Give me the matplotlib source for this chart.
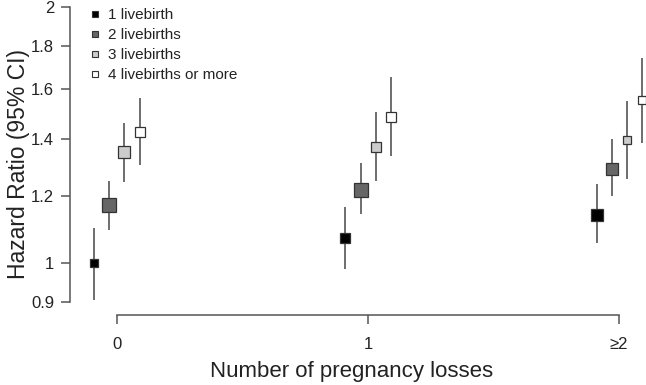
import matplotlib
matplotlib.use('Agg')
import matplotlib.pyplot as plt
from matplotlib.lines import Line2D
from matplotlib.ticker import NullLocator

plt.rcParams['font.family'] = ['Liberation Sans', 'DejaVu Sans']

# ---------------------------------------------
# Data
# ---------------------------------------------
losses = ['0', '1', '\u22652']
groups = ['1 livebirth', '2 livebirths', '3 livebirths', '4 livebirths or more']

# rows = livebirth groups, cols = number of pregnancy losses
hazard_ratio = [
    [1.00, 1.07, 1.14],
    [1.17, 1.22, 1.29],
    [1.35, 1.37, 1.395],
    [1.425, 1.485, 1.555],
]
ci_lower = [
    [0.905, 0.984, 1.055],
    [1.093, 1.142, 1.20],
    [1.245, 1.25, 1.255],
    [1.305, 1.337, 1.385],
]
ci_upper = [
    [1.10, 1.165, 1.24],
    [1.25, 1.31, 1.40],
    [1.46, 1.505, 1.55],
    [1.563, 1.653, 1.74],
]

y_ticks = [0.9, 1, 1.2, 1.4, 1.6, 1.8, 2]
y_ticklabels = ['0.9', '1', '1.2', '1.4', '1.6', '1.8', '2']

# ---------------------------------------------
# Styling
# ---------------------------------------------
face_colors = ['#000000', '#666666', '#cccccc', '#ffffff']
offsets = [-0.09, -0.03, 0.03, 0.09]
marker_sizes = [
    [6.4, 7.2, 8.6],
    [9.4, 9.8, 8.6],
    [8.2, 7.0, 6.3],
    [7.0, 6.6, 6.1],
]
line_col = '#555555'
text_col = '#222222'

fig = plt.figure(figsize=(6.46, 3.85), dpi=100)
ax = fig.add_axes([70 / 646, 70 / 385, 576 / 646, 308 / 385])

for g, name in enumerate(groups):
    for i in range(len(losses)):
        x = i + offsets[g]
        ax.plot([x, x], [ci_lower[g][i], ci_upper[g][i]], color=line_col,
                lw=1.2, zorder=2, solid_capstyle='butt')
        ax.plot(x, hazard_ratio[g][i], marker='s', ls='none',
                ms=marker_sizes[g][i], mfc=face_colors[g], mec='#333333',
                mew=0.9, zorder=3)

ax.set_yscale('log')
ax.set_ylim(0.8687, 2.0)
ax.set_xlim(-0.187, 2.107)

ax.set_yticks(y_ticks)
ax.set_yticklabels(y_ticklabels)
ax.yaxis.set_minor_locator(NullLocator())
ax.set_xticks(range(len(losses)))
ax.set_xticklabels(losses)

for s in ['top', 'right']:
    ax.spines[s].set_visible(False)
ax.spines['left'].set_bounds(0.9, 2)
ax.spines['bottom'].set_bounds(0, 2)
for s in ['left', 'bottom']:
    ax.spines[s].set_color(line_col)
    ax.spines[s].set_linewidth(1.1)

ax.tick_params(axis='y', direction='out', length=6.5, width=1.1, color=line_col,
               labelsize=12, labelcolor=text_col, pad=5)
ax.tick_params(axis='x', direction='out', length=6.5, width=1.1, color=line_col,
               labelsize=12, labelcolor=text_col, pad=9)

fig.text(19 / 646, 1 - 164 / 385, 'Hazard Ratio (95% CI)', rotation=90,
         ha='center', va='center', fontsize=16.5, color=text_col)
fig.text(352 / 646, 1 - 371 / 385, 'Number of pregnancy losses',
         ha='center', va='center', fontsize=16, color=text_col)

handles = [Line2D([], [], marker='s', ls='none', ms=4.8, mfc=c, mec='#333333', mew=0.8)
           for c in face_colors]
ax.legend(handles, groups, loc='upper left', bbox_to_anchor=(89 / 646, 1 - 8 / 385),
          bbox_transform=fig.transFigure, frameon=False, fontsize=11,
          handlelength=0.8, handletextpad=0.45, borderpad=0, borderaxespad=0,
          labelspacing=0.4, labelcolor=text_col)

plt.savefig('out.png', dpi=100)
plt.close()
